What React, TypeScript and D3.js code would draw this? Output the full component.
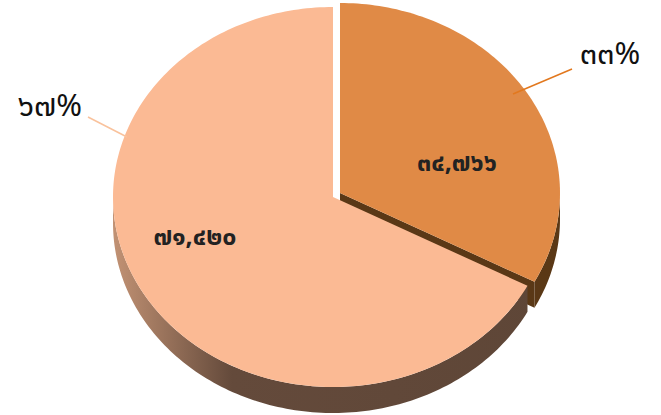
import React from "react";
import * as d3 from "d3";

const categories = ["A", "B"];
const values = [34766, 71420];
const valueLabels = ["๓๔,๗๖๖", "๗๑,๔๒๐"];
const percentLabels = ["๓๓%", "๖๗%"];

const W = 661, H = 415;
const CX = 333, CY = 197, RX = 220, RY = 190, DEPTH = 26;
const topColors = ["#E08A46", "#FBBA94"];
const wallColors = ["#5A3816", "#634A3B"];
const leaderColors = ["#E2781E", "#F9C29C"];
const explode = [[7, -4], [0, 0]];
const valuePos = [[457, 171], [195, 245]];
const pctPos = [[610, 64], [50, 116]];
const leaderPts = [[[513, 94], [572, 69]], [[127, 137], [88, 117]]];

const FONT = "'Noto Sans Thai', 'Noto Sans', 'DejaVu Sans', sans-serif";

function pt(cx: number, cy: number, a: number, dz = 0): [number, number] {
  return [cx + RX * Math.sin(a), cy - RY * Math.cos(a) + dz];
}

function arcPts(cx: number, cy: number, a0: number, a1: number, dz = 0) {
  const n = Math.max(2, Math.ceil(Math.abs(a1 - a0) / 0.02));
  return d3.range(n + 1).map((i) => pt(cx, cy, a0 + ((a1 - a0) * i) / n, dz));
}

const line = d3.line();

export default function App() {
  const pie = d3.pie<number>().sort(null).value((d) => d);
  const arcs = pie(values);

  const topPath = (i: number) => {
    const a = arcs[i];
    const [ox, oy] = explode[i];
    const cx = CX + ox, cy = CY + oy;
    return line([[cx, cy], ...arcPts(cx, cy, a.startAngle, a.endAngle)]) + "Z";
  };

  const outerWall = (i: number) => {
    const a = arcs[i];
    const [ox, oy] = explode[i];
    const cx = CX + ox, cy = CY + oy;
    const s = Math.max(a.startAngle, Math.PI / 2);
    const e = Math.min(a.endAngle, (3 * Math.PI) / 2);
    if (e <= s) return null;
    const top = arcPts(cx, cy, s, e);
    const bot = arcPts(cx, cy, e, s, DEPTH);
    return line([...top, ...bot]) + "Z";
  };

  const cutWall = (i: number, ang: number) => {
    const [ox, oy] = explode[i];
    const cx = CX + ox, cy = CY + oy;
    const r = pt(cx, cy, ang);
    return line([[cx, cy], r, [r[0], r[1] + DEPTH], [cx, cy + DEPTH]]) + "Z";
  };

  return (
    <svg width={W} height={H} style={{ position: "absolute", left: 0, top: 0 }}>
      <defs>
        <linearGradient id="wallGrad" gradientUnits="userSpaceOnUse" x1={CX - RX} x2={CX + RX} y1={0} y2={0}>
          <stop offset="0" stopColor="#C29274" />
          <stop offset="0.27" stopColor="#644A3B" />
          <stop offset="1" stopColor="#5E4637" />
        </linearGradient>
      </defs>
      <rect width={W} height={H} fill="#fff" />
      <path d={outerWall(0) || ""} fill={wallColors[0]} />
      <path d={cutWall(0, arcs[0].endAngle)} fill={wallColors[0]} />
      <path d={outerWall(1) || ""} fill="url(#wallGrad)" />
      <path d={topPath(1)} fill={topColors[1]} />
      <path d={topPath(0)} fill={topColors[0]} />
      {leaderPts.map((p, i) => (
        <path key={"l" + i} d={line(p as [number, number][]) || ""} stroke={leaderColors[i]} strokeWidth={1.5} fill="none" />
      ))}
      {valueLabels.map((t, i) => (
        <text key={"v" + i} x={valuePos[i][0]} y={valuePos[i][1]} textAnchor="middle" fontFamily={FONT} fontWeight="bold" fontSize={25} fill="#222">
          {t}
        </text>
      ))}
      {percentLabels.map((t, i) => (
        <text key={"p" + i} x={pctPos[i][0]} y={pctPos[i][1]} textAnchor="middle" fontFamily={FONT} fontSize={31} fill="#111">
          {t}
        </text>
      ))}
    </svg>
  );
}
